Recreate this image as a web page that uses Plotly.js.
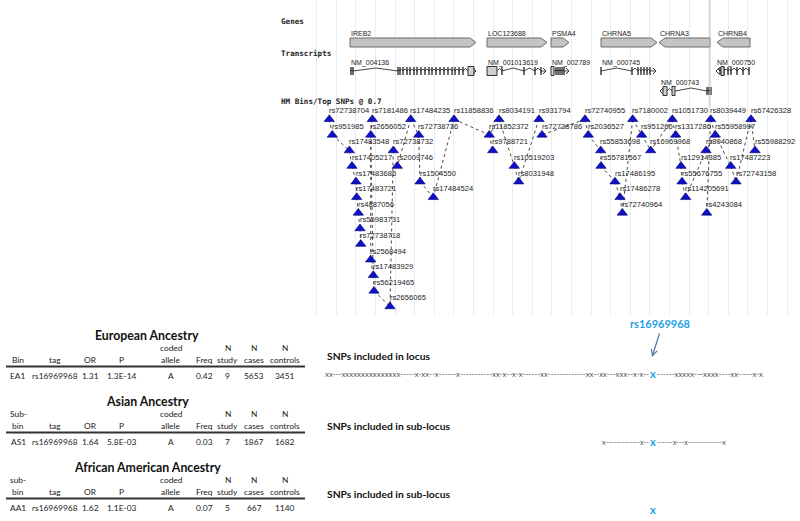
<!DOCTYPE html>
<html><head><meta charset="utf-8">
<script src="https://cdn.plot.ly/plotly-3.0.1.min.js"></script>
<style>html,body{margin:0;padding:0;background:#fff}</style>
</head><body><div id="chart" style="width:800px;height:521px"></div>
<script>
// ================= DATA =================
// genes (position along the locus, chart units)
const geneNames  = ['IREB2','LOC123688','PSMA4','CHRNA5','CHRNA3','CHRNB4'];
const geneStart  = [350, 487, 551, 601, 659, 717];
const geneEnd    = [476, 547, 569, 657, 710, 750];
const geneStrand = ['+','+','+','+','-','-'];

// transcripts
const txNames  = ['NM_004136','NM_001013619','NM_002789','NM_000745','NM_000743','NM_000750'];
const txStart  = [350, 487, 551, 601, 660, 716];
const txEnd    = [476, 546, 569, 656, 711, 750];
const txTrack  = [0, 0, 0, 0, 1, 0];
const txStrand = ['+','+','+','+','-','-'];
const txExons  = [
  [351,353,398,400,403,407,410,414,417,421,425,429,432,436,440,444,448,452,455,459,463],
  [502,524,535,541],
  [556,558,560,562,564],
  [601,632,638,641,644,647,650],
  [707,709,711],
  [720,724,728,731,737,743,749]
];
const txBoxes  = [[468,474],[487,497],[551,554],[],[663,667],[721,724]];
const txBoxes2 = [[],[],[],[],[672,675],[]];

// HapMap bins / top SNPs
const snpNames = ['rs72738704','rs951985','rs17483548','rs17405217','rs17483686','rs17483721','rs4887056','rs55983731','rs72738718','rs2568494','rs17483929','rs56219465','rs2656065',
  'rs7181486','rs2656052','rs72738732','rs2009746','rs17484235','rs72738736','rs1504550','rs17484524','rs11858836',
  'rs8034191','rs11852372','rs9788721','rs10519203','rs8031948','rs931794','rs72738786',
  'rs72740955','rs2036527','rs55853698','rs55781567','rs17486195','rs17486278','rs72740964',
  'rs7180002','rs951266','rs16969968','rs1051730','rs1317286','rs12914385','rs55676755','rs114205691',
  'rs8039449','rs55958997','rs8040868','rs4243084','rs67426328','rs55988292','rs17487223','rs72743158'];
const snpPos = [329.3,332.3,349.3,352,356,356.7,358.3,360,360.7,370.7,373.3,374,390,
  372.3,370.7,393.3,397.3,410.7,418.7,420,433.3,454,
  499,489.3,492.7,514.3,518.7,539,542,
  585,588.3,600.7,601,615,620,622.3,
  632.7,641.7,650.7,672.3,675.7,681,682,685.7,
  710.7,715.3,706,706.7,751,755,730.7,736];
const snpRow = [0,1,2,3,4,5,6,7,8,9,10,11,12,
  0,1,2,3,0,1,4,5,0,
  0,1,2,3,4,0,1,
  0,1,2,3,4,5,6,
  0,1,2,0,1,3,4,5,
  0,1,2,6,0,2,3,4];

// LD links between SNPs
const linkFrom = ['rs72738704','rs951985','rs17483548','rs17405217','rs17483686','rs17483721','rs4887056','rs55983731',
  'rs7181486','rs2656052','rs2656052','rs2568494','rs17483929','rs56219465','rs72738732',
  'rs17484235','rs17484235','rs72738736','rs1504550','rs11858836','rs11858836',
  'rs11852372','rs8034191','rs8034191','rs10519203','rs931794',
  'rs72740955','rs72740955','rs2036527','rs55853698','rs55781567','rs17486195','rs17486278','rs7180002',
  'rs7180002','rs951266','rs1051730','rs1051730','rs1317286','rs12914385','rs55676755','rs8040868',
  'rs8039449','rs8039449','rs55958997','rs55958997','rs67426328','rs67426328','rs17487223'];
const linkTo = ['rs951985','rs17483548','rs17405217','rs17483686','rs17483721','rs4887056','rs55983731','rs72738718',
  'rs2656052','rs2568494','rs17483929','rs17483929','rs56219465','rs2656065','rs2656065',
  'rs2009746','rs72738736','rs1504550','rs17484524','rs17484524','rs11852372',
  'rs9788721','rs11852372','rs10519203','rs8031948','rs8031948',
  'rs72738786','rs2036527','rs55853698','rs55781567','rs17486195','rs17486278','rs72740964','rs72740964',
  'rs951266','rs16969968','rs16969968','rs1317286','rs12914385','rs55676755','rs114205691','rs114205691',
  'rs4243084','rs55958997','rs8040868','rs17487223','rs55988292','rs72743158','rs72743158'];

// association tables
const ancestryTitles = ['European Ancestry','Asian Ancestry','African American Ancestry'];
const headTop    = [['','','','','coded','','N','N','N'],['Sub-','','','','coded','','N','N','N'],['sub-','','','','coded','','N','N','N']];
const headBottom = [['Bin','tag','OR','P','allele','Freq','study','cases','controls'],['bin','tag','OR','P','allele','Freq','study','cases','controls'],['bin','tag','OR','P','allele','Freq','study','cases','controls']];
const binIds     = ['EA1','AS1','AA1'];
const tagSnps    = ['rs16969968','rs16969968','rs16969968'];
const orValues   = ['1.31','1.64','1.62'];
const pValues    = ['1.3E-14','5.8E-03','1.1E-03'];
const codedAllele= ['A','A','A'];
const freqValues = ['0.42','0.03','0.07'];
const nStudy     = [9, 7, 5];
const nCases     = [5653, 1867, 667];
const nControls  = [3451, 1682, 1140];
const locusLabels= ['SNPs included in locus','SNPs included in sub-locus','SNPs included in sub-locus'];
const locusLeft  = ['xx---xxxxxxxxxxxxxxx-----x-xx--x------x-----------xx-x--x-x------xx-------------xx--xx---xxx--x-x--','x-------------x--',''];
const locusRight = ['------xxxxx-\u2014xxxx----xx-----x-x','------x---x-------------x',''];
const leadSnp    = 'rs16969968';

// ================= LAYOUT / DRAWING =================
const W = 800, H = 521, TOPH = 315, XL = 312;
const rowY0 = 119.3, rowStep = 15.6;
const rowY = r => rowY0 + r * rowStep;
const px = x => x / W, py = y => 1 - y / H;

const traces = [];
const shapes = [];
const annotations = [];

// links
const idx = {}; snpNames.forEach((n,i)=>idx[n]=i);
const lx = [], ly = [];
linkFrom.forEach((f,i)=>{
  const a = idx[f], b = idx[linkTo[i]];
  lx.push(snpPos[a], snpPos[b], null);
  ly.push(rowY(snpRow[a]), rowY(snpRow[b]), null);
});
traces.push({type:'scatter', mode:'lines', x:lx, y:ly, xaxis:'x', yaxis:'y', hoverinfo:'skip',
  line:{color:'#4a4a4a', width:1, dash:'dot'}, showlegend:false});

// triangles
traces.push({type:'scatter', mode:'markers', x:snpPos, y:snpRow.map(rowY), xaxis:'x', yaxis:'y',
  marker:{symbol:'triangle-up', size:9, color:'#1010c8', line:{color:'#000070', width:0.6}},
  hoverinfo:'text', text:snpNames, showlegend:false});

// snp labels
snpNames.forEach((n,i)=>{
  annotations.push({xref:'x', yref:'y', x:snpPos[i]-1.5, y:rowY(snpRow[i])-8.6, text:n, showarrow:false,
    xanchor:'left', yanchor:'middle', borderpad:0,
    font:{family:'Liberation Sans, Arial, sans-serif', size:7.6, color:'#222'}});
});

// genes
const gy0 = 38, gy1 = 47, gm = (gy0+gy1)/2, tip = 6;
geneNames.forEach((g,i)=>{
  const s = geneStart[i], e = geneEnd[i];
  let path;
  if (geneStrand[i] === '+') path = `M${s},${gy0} L${e-tip},${gy0} L${e},${gm} L${e-tip},${gy1} L${s},${gy1} Z`;
  else path = `M${e},${gy0} L${s+tip},${gy0} L${s},${gm} L${s+tip},${gy1} L${e},${gy1} Z`;
  shapes.push({type:'path', xref:'x', yref:'y', path, fillcolor:'#c4c4c4', line:{color:'#6a6a6a', width:1}});
  annotations.push({xref:'x', yref:'y', x:s, y:33, text:g, showarrow:false, xanchor:'left', yanchor:'middle', borderpad:0,
    font:{family:'Liberation Sans, Arial, sans-serif', size:7, color:'#222'}});
});

// transcripts
const tyBase = [71, 91];
txNames.forEach((t,i)=>{
  const y = tyBase[txTrack[i]];
  const ex = txExons[i].slice();
  annotations.push({xref:'x', yref:'y', x:txStart[i], y:y-8, text:t, showarrow:false, xanchor:'left', yanchor:'middle', borderpad:0,
    font:{family:'Liberation Sans, Arial, sans-serif', size:7, color:'#222'}});
  const pts = [txStart[i]].concat(ex, txBoxes[i], txBoxes2[i]).sort((a,b)=>a-b);
  const ix = [], iy = [];
  for (let k=0;k<pts.length-1;k++){
    const a = pts[k], b = pts[k+1];
    ix.push(a, (a+b)/2, b, null);
    iy.push(y, y - Math.min(3, (b-a)*0.5), y, null);
  }
  traces.push({type:'scatter', mode:'lines', x:ix, y:iy, xaxis:'x', yaxis:'y', hoverinfo:'skip', showlegend:false,
    line:{color:'#333', width:0.9}});
  const ex2 = [], ey2 = [];
  ex.forEach(v=>{ ex2.push(v, v, null); ey2.push(y-4, y+4, null); });
  traces.push({type:'scatter', mode:'lines', x:ex2, y:ey2, xaxis:'x', yaxis:'y', hoverinfo:'skip', showlegend:false,
    line:{color:'#222', width:1.3}});
  [txBoxes[i], txBoxes2[i]].forEach(bx=>{
    if (bx.length) shapes.push({type:'rect', xref:'x', yref:'y', x0:bx[0], x1:bx[1], y0:y-4.5, y1:y+4.5,
      fillcolor:'#cfcfcf', line:{color:'#333', width:1}});
  });
  if (txStrand[i] === '+') {
    const e = txEnd[i];
    shapes.push({type:'path', xref:'x', yref:'y', path:`M${e-3},${y-3} L${e},${y} L${e-3},${y+3}`, line:{color:'#333', width:1}});
    shapes.push({type:'line', xref:'x', yref:'y', x0:pts[pts.length-1], x1:e, y0:y, y1:y, line:{color:'#333', width:0.9}});
  } else {
    const s = txStart[i];
    shapes.push({type:'path', xref:'x', yref:'y', path:`M${s+3},${y-3} L${s},${y} L${s+3},${y+3}`, line:{color:'#333', width:1}});
  }
});

// region marker line
shapes.push({type:'line', xref:'x', yref:'y', x0:710, x1:710, y0:0, y1:108, line:{color:'#bdbdbd', width:1}});

// track labels
[['Genes',22],['Transcripts',54],['HM Bins/Top SNPs @ 0.7',101]].forEach(([t,y])=>{
  annotations.push({xref:'paper', yref:'paper', x:px(280), y:py(y), text:'<b>'+t+'</b>', showarrow:false,
    xanchor:'left', yanchor:'middle', borderpad:0, font:{family:'DejaVu Sans Mono, monospace', size:7.6, color:'#222'}});
});

// ---- tables ----
const colX = [18, 55, 90, 121, 171, 204, 228, 254, 285];
const titleY = [335, 401, 467];
const tabFont = {family:'Lato, Open Sans, sans-serif', size:8.4, color:'#222'};
ancestryTitles.forEach((t,s)=>{
  const ty = titleY[s];
  annotations.push({xref:'paper', yref:'paper', x:px(147), y:py(ty), text:'<b>'+t+'</b>', showarrow:false,
    xanchor:'center', yanchor:'middle', font:{family:'Lato, Open Sans, sans-serif', size:12.3, color:'#111'}});
  const row = [binIds[s], tagSnps[s], orValues[s], pValues[s], codedAllele[s], freqValues[s], String(nStudy[s]), String(nCases[s]), String(nControls[s])];
  colX.forEach((cx,c)=>{
    if (headTop[s][c]) annotations.push({xref:'paper', yref:'paper', x:px(cx), y:py(ty+13), text:headTop[s][c], showarrow:false,
      xanchor:'center', yanchor:'middle', borderpad:0, font:tabFont});
    annotations.push({xref:'paper', yref:'paper', x:px(cx), y:py(ty+25), text:headBottom[s][c], showarrow:false,
      xanchor:'center', yanchor:'middle', borderpad:0, font:tabFont});
    annotations.push({xref:'paper', yref:'paper', x:px(cx), y:py(ty+41), text:row[c], showarrow:false,
      xanchor:'center', yanchor:'middle', borderpad:0, font:tabFont});
  });
  shapes.push({type:'line', xref:'paper', yref:'paper', x0:px(6), x1:px(305), y0:py(ty+31.5), y1:py(ty+31.5),
    line:{color:'#333', width:2}});
});

// ---- SNP inclusion strings ----
const locLabelY = [356, 426, 494];
const locStrY   = [374, 442, 510];
const locFont   = [7.9, 7.2, 7.2];
const blueX = 653;
locusLabels.forEach((l,s)=>{
  annotations.push({xref:'paper', yref:'paper', x:px(326), y:py(locLabelY[s]), text:'<b>'+l+'</b>', showarrow:false,
    xanchor:'left', yanchor:'middle', borderpad:0, font:{family:'Lato, Open Sans, sans-serif', size:10.3, color:'#111'}});
  if (locusLeft[s]) annotations.push({xref:'paper', yref:'paper', x:px(blueX-3), y:py(locStrY[s]), text:locusLeft[s], showarrow:false,
    xanchor:'right', yanchor:'middle', borderpad:0, font:{family:'Lato, Open Sans, sans-serif', size:locFont[s], color:'#555'}});
  if (locusRight[s]) annotations.push({xref:'paper', yref:'paper', x:px(blueX+3), y:py(locStrY[s]), text:locusRight[s], showarrow:false,
    xanchor:'left', yanchor:'middle', borderpad:0, font:{family:'Lato, Open Sans, sans-serif', size:locFont[s], color:'#555'}});
  annotations.push({xref:'paper', yref:'paper', x:px(blueX), y:py(locStrY[s]-1), text:'<b>x</b>', showarrow:false,
    xanchor:'center', yanchor:'middle', borderpad:0, font:{family:'Lato, Open Sans, sans-serif', size:11, color:'#1ea0e6'}});
});
annotations.push({xref:'paper', yref:'paper', x:px(660), y:py(323), text:'<b>'+leadSnp+'</b>', showarrow:false,
  xanchor:'center', yanchor:'middle', font:{family:'Lato, Open Sans, sans-serif', size:11, color:'#1ea0e6'}});
annotations.push({xref:'paper', yref:'paper', x:px(652), y:py(357), text:'', showarrow:true, arrowhead:5, arrowsize:1,
  arrowwidth:1.2, arrowcolor:'#4f74a8', ax:8, ay:-25, standoff:0});

const layout = {
  width: W, height: H, margin:{l:0,r:0,t:0,b:0}, paper_bgcolor:'#fff', plot_bgcolor:'rgba(0,0,0,0)',
  showlegend:false,
  xaxis:{domain:[XL/W,1], range:[XL,W], showgrid:true, gridcolor:'#e6edf4', gridwidth:1, tick0:316.7, dtick:19.6,
    zeroline:false, showticklabels:false, ticks:'', showline:false, fixedrange:true},
  yaxis:{domain:[1-TOPH/H,1], range:[TOPH,0], showgrid:false, zeroline:false, showticklabels:false, ticks:'', showline:false, fixedrange:true},
  shapes, annotations
};
Plotly.newPlot('chart', traces, layout, {staticPlot:true, displayModeBar:false});
</script></body></html>
